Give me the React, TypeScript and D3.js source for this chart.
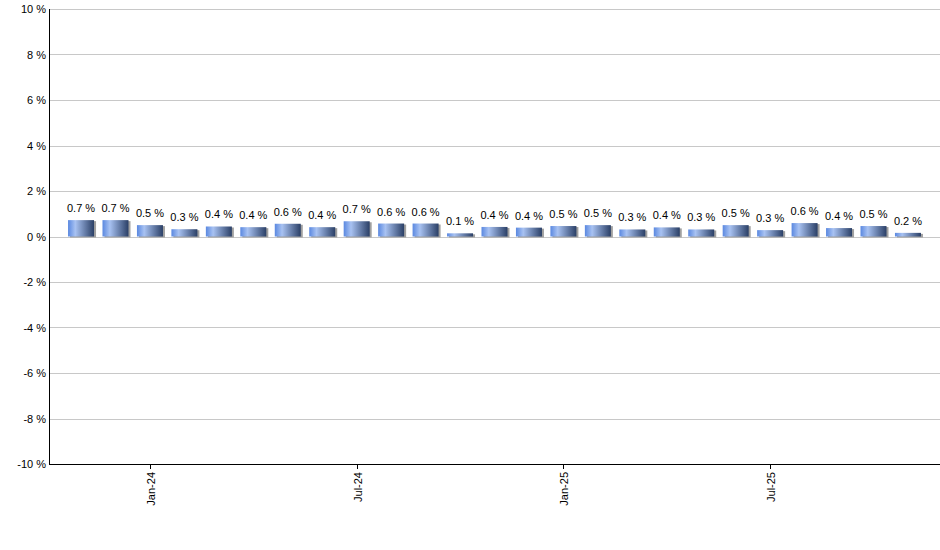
import React, { useEffect, useRef } from "react";
import * as d3 from "d3";

// monthly change, Nov-23 .. Nov-25
const months = [
  "Nov-23", "Dec-23", "Jan-24", "Feb-24", "Mar-24", "Apr-24", "May-24",
  "Jun-24", "Jul-24", "Aug-24", "Sep-24", "Oct-24", "Nov-24", "Dec-24",
  "Jan-25", "Feb-25", "Mar-25", "Apr-25", "May-25", "Jun-25", "Jul-25",
  "Aug-25", "Sep-25", "Oct-25", "Nov-25",
];
const values = [
  0.72, 0.72, 0.5, 0.32, 0.44, 0.41, 0.56, 0.41, 0.67, 0.57, 0.57, 0.14,
  0.42, 0.39, 0.46, 0.5, 0.31, 0.4, 0.31, 0.5, 0.28, 0.59, 0.37, 0.46, 0.16,
];
const xTickLabels = ["Jan-24", "Jul-24", "Jan-25", "Jul-25"];
const yTicks = [-10, -8, -6, -4, -2, 0, 2, 4, 6, 8, 10];

const width = 940;
const height = 550;

const App: React.FC = () => {
  const svgRef = useRef<SVGSVGElement | null>(null);

  useEffect(() => {
    const svg = d3.select(svgRef.current);
    svg.selectAll("*").remove();

    const left = 49;
    const right = 940;
    const top = 9;
    const bottom = 464;

    const x = d3
      .scaleLinear()
      .domain([-0.93, months.length - 0.07])
      .range([left, right]);
    const y = d3.scaleLinear().domain([-10, 10]).range([bottom, top]);
    const barW = 26;

    const defs = svg.append("defs");
    const grad = defs
      .append("linearGradient")
      .attr("id", "barGrad")
      .attr("x1", "0%")
      .attr("x2", "100%")
      .attr("y1", "0%")
      .attr("y2", "0%");
    grad.append("stop").attr("offset", "0%").attr("stop-color", "#5a88e0");
    grad.append("stop").attr("offset", "28%").attr("stop-color", "#a8c2f2");
    grad.append("stop").attr("offset", "100%").attr("stop-color", "#2a3f66");

    // grid
    svg
      .append("g")
      .selectAll("line")
      .data(yTicks)
      .enter()
      .append("line")
      .attr("x1", left)
      .attr("x2", right)
      .attr("y1", (d) => Math.round(y(d)) + 0.5)
      .attr("y2", (d) => Math.round(y(d)) + 0.5)
      .attr("stroke", "#c8c8c8")
      .attr("stroke-width", 1);

    // y labels
    svg
      .append("g")
      .selectAll("text")
      .data(yTicks)
      .enter()
      .append("text")
      .attr("x", left - 3)
      .attr("y", (d) => y(d) + 4)
      .attr("text-anchor", "end")
      .attr("font-family", "Liberation Sans, Arial, sans-serif")
      .attr("font-size", 11)
      .attr("fill", "#000")
      .text((d) => `${d} %`);

    // bars
    const bars = svg
      .append("g")
      .selectAll("g")
      .data(values)
      .enter()
      .append("g");

    bars
      .append("rect")
      .attr("x", (d, i) => x(i) - barW / 2 + 2)
      .attr("y", (d) => y(d) + 1)
      .attr("width", barW)
      .attr("height", (d) => y(0) - y(d))
      .attr("fill", "#a0a0a0");

    bars
      .append("rect")
      .attr("x", (d, i) => x(i) - barW / 2)
      .attr("y", (d) => y(d))
      .attr("width", barW)
      .attr("height", (d) => y(0) - y(d))
      .attr("fill", "url(#barGrad)");

    bars
      .append("text")
      .attr("x", (d, i) => x(i))
      .attr("y", (d) => y(d) - 8)
      .attr("text-anchor", "middle")
      .attr("font-family", "Liberation Sans, Arial, sans-serif")
      .attr("font-size", 11)
      .attr("fill", "#000")
      .text((d) => `${d.toFixed(1)} %`);

    // axes lines
    svg
      .append("line")
      .attr("x1", left + 0.5)
      .attr("x2", left + 0.5)
      .attr("y1", top)
      .attr("y2", bottom + 1)
      .attr("stroke", "#000");
    svg
      .append("line")
      .attr("x1", left)
      .attr("x2", right)
      .attr("y1", bottom + 0.5)
      .attr("y2", bottom + 0.5)
      .attr("stroke", "#000");

    // x ticks
    const xt = svg
      .append("g")
      .selectAll("g")
      .data(xTickLabels)
      .enter()
      .append("g")
      .attr(
        "transform",
        (d) => `translate(${Math.round(x(months.indexOf(d))) + 0.5},${bottom})`
      );
    xt.append("line").attr("y1", 0).attr("y2", 5).attr("stroke", "#000");
    xt.append("text")
      .attr("transform", "rotate(-90)")
      .attr("x", -8)
      .attr("y", 4)
      .attr("text-anchor", "end")
      .attr("font-family", "Liberation Sans, Arial, sans-serif")
      .attr("font-size", 11)
      .attr("fill", "#000")
      .text((d) => d);
  }, []);

  return (
    <svg
      ref={svgRef}
      width={width}
      height={height}
      style={{ position: "absolute", left: 0, top: 0, background: "#fff" }}
    ></svg>
  );
};

export default App;
